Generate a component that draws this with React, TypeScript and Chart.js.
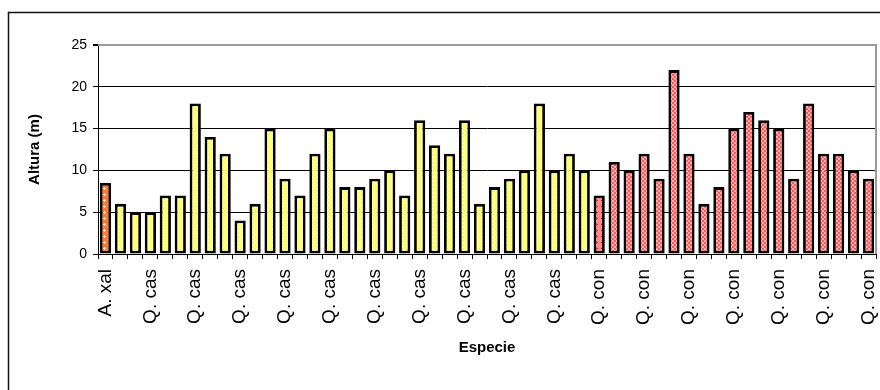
import { useEffect, useRef } from 'react';
import { Chart, registerables } from 'chart.js';

Chart.register(...registerables);

// Tree heights (m) by species
const speciesNames = ['A. xal', 'Q. cas', 'Q. con'];
const xalHeights = [8.5];
const casHeights = [
  6, 5, 5, 7, 7, 18, 14, 12, 4, 6, 15, 9, 7, 12, 15, 8, 8, 9, 10, 7, 16, 13, 12, 16, 6, 8, 9, 10, 18, 10, 12, 10,
];
const conHeights = [7, 11, 10, 12, 9, 22, 12, 6, 8, 15, 17, 16, 15, 9, 18, 12, 12, 10, 9];
const yTickValues = [0, 5, 10, 15, 20, 25];
const labelEvery = 3;

const FONT = "'Liberation Sans', Arial, sans-serif";

function checker(ctx: CanvasRenderingContext2D, a: string, b: string, size = 2) {
  const c = document.createElement('canvas');
  c.width = size * 2;
  c.height = size * 2;
  const g = c.getContext('2d')!;
  g.fillStyle = a;
  g.fillRect(0, 0, size * 2, size * 2);
  g.fillStyle = b;
  g.fillRect(0, 0, size, size);
  g.fillRect(size, size, size, size);
  return ctx.createPattern(c, 'repeat')!;
}

function crosses(ctx: CanvasRenderingContext2D, bg: string, fg: string) {
  const c = document.createElement('canvas');
  c.width = 6;
  c.height = 6;
  const g = c.getContext('2d')!;
  g.fillStyle = bg;
  g.fillRect(0, 0, 6, 6);
  g.fillStyle = fg;
  g.fillRect(2, 1, 1, 3);
  g.fillRect(1, 2, 3, 1);
  return ctx.createPattern(c, 'repeat')!;
}

// Outer frame and the grey plot-area border on top and right
const framePlugin = {
  id: 'frames',
  beforeDatasetsDraw(chart: Chart) {
    const { ctx, chartArea } = chart;
    ctx.save();
    ctx.strokeStyle = '#9a9a9a';
    ctx.lineWidth = 2;
    ctx.beginPath();
    ctx.moveTo(chartArea.left, chartArea.top);
    ctx.lineTo(chartArea.right, chartArea.top);
    ctx.lineTo(chartArea.right, chartArea.bottom);
    ctx.stroke();
    ctx.restore();
  },
  afterDraw(chart: Chart) {
    const { ctx } = chart;
    ctx.save();
    ctx.strokeStyle = '#111';
    ctx.lineWidth = 1.5;
    ctx.strokeRect(8.5, 12.5, 920, 420);
    ctx.restore();
  },
};

export default function App() {
  const ref = useRef<HTMLCanvasElement>(null);

  useEffect(() => {
    const canvas = ref.current!;
    const ctx = canvas.getContext('2d')!;

    const labels: string[] = [];
    const values: number[] = [];
    const fills: (CanvasPattern | string)[] = [];
    const groups = [xalHeights, casHeights, conHeights];
    const yellow = checker(ctx, '#FFFF4D', '#FFFFB3');
    const red = checker(ctx, '#FF5757', '#FFADAD');
    const orange = crosses(ctx, '#FF7A33', '#FFE0CC');
    const pink = crosses(ctx, '#FF8A8A', '#FF1010');
    groups.forEach((g, gi) => {
      g.forEach((v, i) => {
        labels.push(speciesNames[gi]);
        values.push(v);
        if (gi === 0) fills.push(orange);
        else if (gi === 1) fills.push(yellow);
        else fills.push(i === 0 ? pink : red);
      });
    });

    const chart = new Chart(canvas, {
      type: 'bar',
      data: {
        labels,
        datasets: [
          {
            data: values,
            backgroundColor: fills,
            borderColor: '#000',
            borderWidth: 2.8,
            borderSkipped: false,
            barPercentage: 0.75,
            categoryPercentage: 1,
          },
        ],
      },
      options: {
        responsive: false,
        animation: false,
        layout: { padding: { top: 45, right: 4, left: 0, bottom: 0 } },
        plugins: { legend: { display: false }, tooltip: { enabled: false } },
        scales: {
          x: {
            offset: true,
            grid: {
              offset: true,
              drawOnChartArea: false,
              drawTicks: true,
              tickLength: 5,
              tickColor: '#000',
            },
            border: { color: '#000', width: 1 },
            ticks: {
              autoSkip: false,
              minRotation: 90,
              maxRotation: 90,
              padding: 10,
              color: '#000',
              font: { family: FONT, size: 19 },
              callback: (_v: any, i: number) => (i % labelEvery === 0 ? labels[i] : ''),
            },
            title: {
              display: true,
              text: 'Especie',
              color: '#000',
              font: { family: FONT, size: 15, weight: 'bold' },
              padding: { top: 0, bottom: 33 },
            },
            afterFit: (s: any) => {
              s.height = 136;
              s.paddingLeft = 0;
              s.paddingRight = 0;
            },
          },
          y: {
            min: 0,
            max: 25,
            afterBuildTicks: (s: any) => {
              s.ticks = yTickValues.map((v) => ({ value: v }));
            },
            grid: {
              color: (c: any) => (c.tick && c.tick.value === 25 ? '#9a9a9a' : '#000'),
              lineWidth: (c: any) => (c.tick && c.tick.value === 25 ? 2 : 1),
              tickColor: '#000',
              tickLength: 5,
            },
            border: { color: '#000', width: 1 },
            ticks: {
              padding: 6,
              color: '#000',
              font: { family: FONT, size: 14 },
            },
            title: {
              display: true,
              text: 'Altura (m)',
              color: '#000',
              font: { family: FONT, size: 15, weight: 'bold' },
              padding: { top: 26, bottom: 0 },
            },
            afterFit: (s: any) => {
              s.width = 98;
            },
          },
        },
      },
      plugins: [framePlugin],
    });

    return () => chart.destroy();
  }, []);

  return (
    <div style={{ position: 'absolute', left: 0, top: 0, width: 880, height: 390, background: '#fff' }}>
      <canvas ref={ref} width={880} height={390} style={{ display: 'block' }} />
    </div>
  );
}
